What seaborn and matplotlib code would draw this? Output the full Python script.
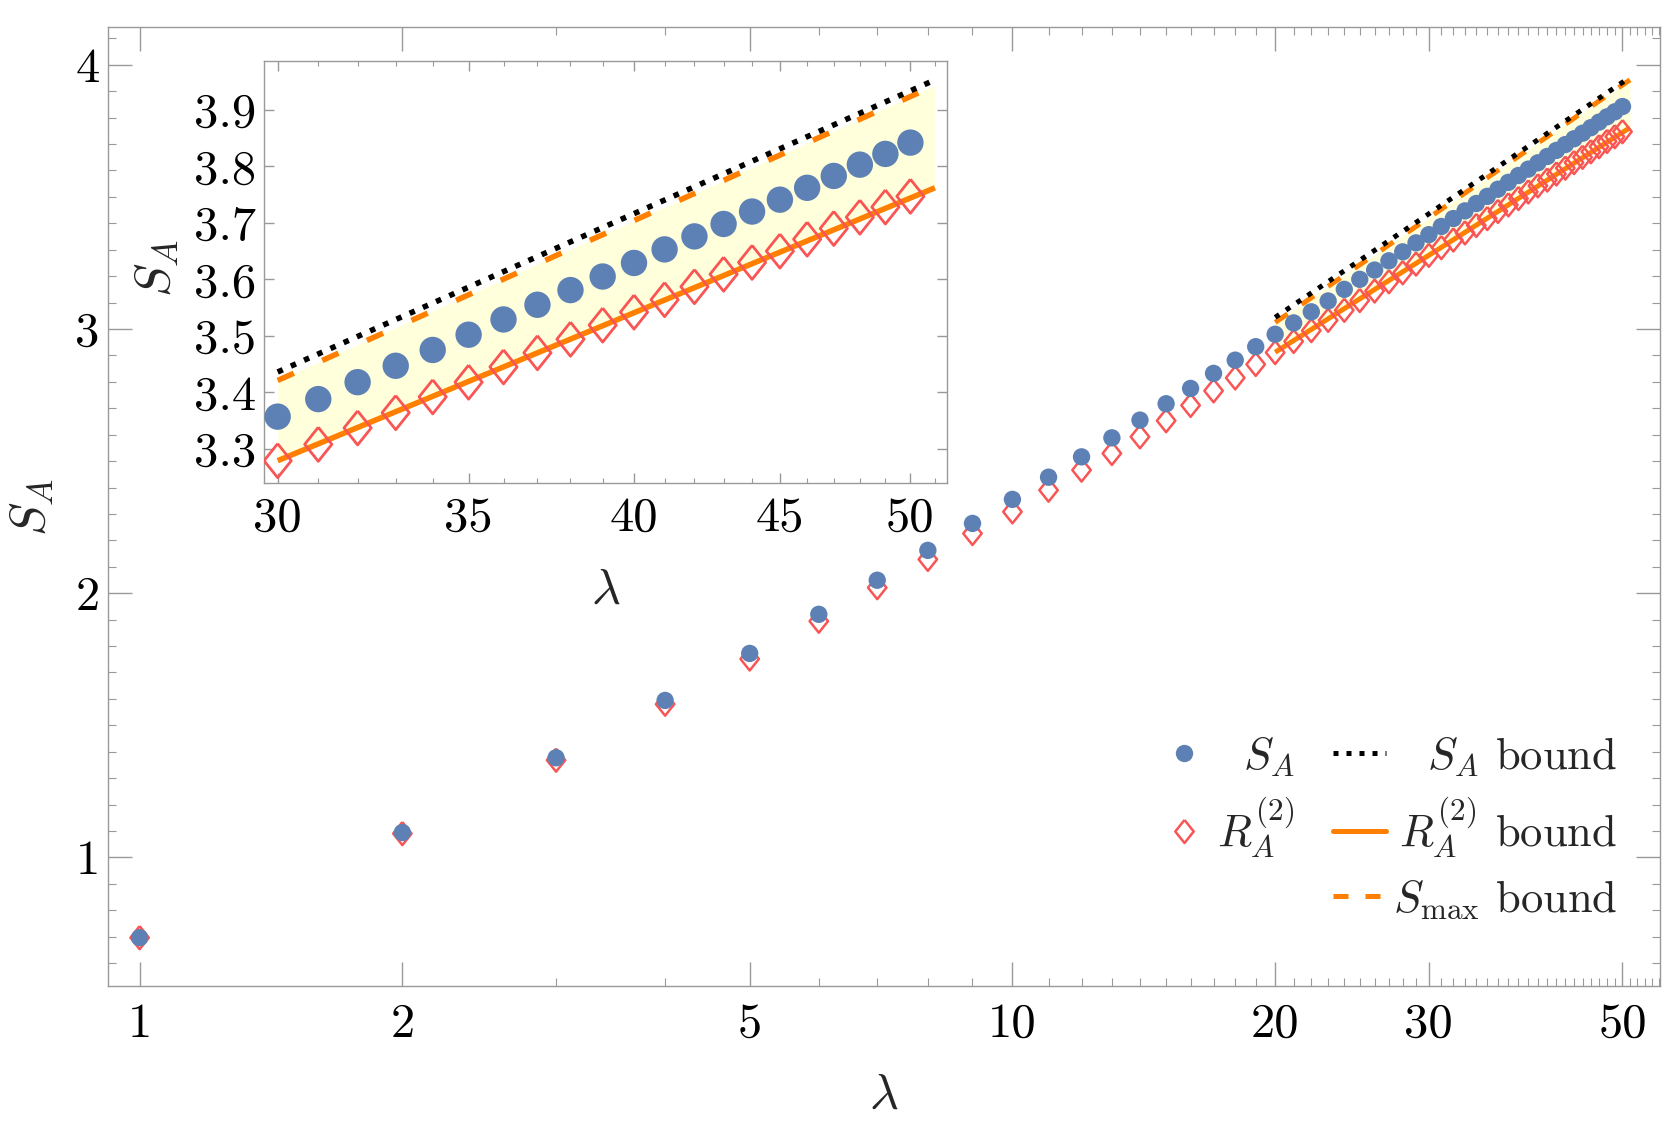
import matplotlib
matplotlib.use('Agg')
import matplotlib.pyplot as plt
import seaborn as sns
from matplotlib.lines import Line2D

# data
lam = list(range(1, 51))
s_a = [0.696, 1.094, 1.377, 1.594, 1.772, 1.920, 2.049, 2.162, 2.264, 2.355,
       2.439, 2.516, 2.588, 2.655, 2.717, 2.775, 2.832, 2.882, 2.933, 2.980,
       3.023, 3.065, 3.106, 3.150, 3.188, 3.223, 3.258, 3.292, 3.326, 3.357,
       3.388, 3.418, 3.447, 3.475, 3.502, 3.529, 3.555, 3.581, 3.605, 3.629,
       3.653, 3.676, 3.698, 3.720, 3.741, 3.762, 3.783, 3.803, 3.822, 3.842]
r_a2 = [0.696, 1.090, 1.368, 1.580, 1.751, 1.894, 2.021, 2.128, 2.226, 2.308,
        2.390, 2.466, 2.529, 2.592, 2.653, 2.711, 2.766, 2.815, 2.866, 2.911,
        2.953, 2.994, 3.033, 3.071, 3.108, 3.144, 3.179, 3.213, 3.246, 3.279,
        3.308, 3.337, 3.364, 3.392, 3.418, 3.445, 3.470, 3.494, 3.519, 3.542,
        3.564, 3.587, 3.609, 3.630, 3.650, 3.671, 3.690, 3.710, 3.728, 3.747]

bound_lam = [20, 30, 51]
s_a_bound = [3.044, 3.436, 3.953]
s_max_bound = [3.025, 3.421, 3.943]
r_a2_bound = [2.912, 3.279, 3.762]

x_major = [1, 2, 5, 10, 20, 30, 50]
y_major = [1, 2, 3, 4]
inset_x_major = [30, 35, 40, 45, 50]
inset_y_major = [3.3, 3.4, 3.5, 3.6, 3.7, 3.8, 3.9]

BLUE = '#5E81B5'
RED = '#FA5555'
ORANGE = '#FF8000'
FILL = '#FFFFDC'
GRAY = '#999999'
DIAMOND = [(0, 1), (0.8, 0), (0, -1), (-0.8, 0), (0, 1)]

sns.set_style('ticks')
plt.rcParams['font.family'] = ['cmr10', 'DejaVu Serif']
plt.rcParams['mathtext.fontset'] = 'cm'
plt.rcParams['axes.formatter.use_mathtext'] = True
plt.rcParams['axes.edgecolor'] = GRAY
plt.rcParams['axes.linewidth'] = 1.0


def style_axes(ax, major_len, minor_len, size):
    ax.tick_params(which='both', direction='in', top=True, right=True,
                   color=GRAY, labelcolor='black', labelsize=size)
    ax.tick_params(which='major', length=major_len, width=1.0)
    ax.tick_params(which='minor', length=minor_len, width=0.8)
    for sp in ax.spines.values():
        sp.set_color(GRAY)
        sp.set_linewidth(1.0)


def draw(ax, lo, lw, dash, ms_c, ms_d, lw_d):
    # lo: first index of the bound arrays to draw
    ax.fill_between(bound_lam[lo:], r_a2_bound[lo:], s_max_bound[lo:],
                    color=FILL, lw=0, zorder=1)
    sns.lineplot(x=bound_lam[lo:], y=r_a2_bound[lo:], ax=ax, color=ORANGE,
                 lw=lw, zorder=2, solid_capstyle='butt')
    sns.lineplot(x=bound_lam[lo:], y=s_max_bound[lo:], ax=ax, color=ORANGE,
                 lw=lw, linestyle=(0, dash), dash_capstyle='butt', zorder=2)
    sns.lineplot(x=bound_lam[lo:], y=s_a_bound[lo:], ax=ax, color='black',
                 lw=lw, linestyle=(0, (1, 1.6)), dash_capstyle='butt', zorder=3)
    sns.scatterplot(x=lam, y=r_a2, ax=ax, marker=DIAMOND, s=ms_d ** 2,
                    facecolor='none', edgecolor=RED, linewidth=lw_d, zorder=4)
    sns.scatterplot(x=lam, y=s_a, ax=ax, marker='o', s=ms_c ** 2,
                    color=BLUE, edgecolor='none', linewidth=0, zorder=5)


fig = plt.figure(figsize=(16.67, 11.30), dpi=100)

# main axes
ax = fig.add_axes([0.0648, 0.1274, 0.931, 0.8487])
draw(ax, 0, 3.6, (3, 3.4), 12.5, 16.6, 1.8)
ax.set_xscale('log')
ax.set_xlim(0.92, 55.2)
ax.set_ylim(0.513, 4.143)
ax.set_xticks(x_major, [str(v) for v in x_major])
ax.set_xticks([v for v in range(3, 56) if v not in x_major], minor=True)
ax.set_xticklabels([], minor=True)
ax.set_yticks(y_major, [str(v) for v in y_major])
ax.set_yticks([v / 10 for v in range(6, 42) if v % 10], minor=True)
style_axes(ax, 17, 6, 35)
ax.tick_params(axis='x', which='both', pad=12)
ax.tick_params(axis='y', which='both', pad=6)
ax.set_xlabel(r'$\lambda$', fontsize=36)
ax.xaxis.set_label_coords(0.5, -0.09)
ax.set_ylabel(r'$S_A$', fontsize=36)
ax.yaxis.set_label_coords(-0.034, 0.5)

handles = [
    Line2D([], [], ls='', marker='o', ms=12.5, color=BLUE, mec='none'),
    Line2D([], [], ls='', marker=DIAMOND, ms=16.6, mfc='none', mec=RED, mew=1.8),
    Line2D([], [], ls='', marker=''),
    Line2D([], [], color='black', lw=3.6, ls=(0, (1, 1.6)), dash_capstyle='butt'),
    Line2D([], [], color=ORANGE, lw=3.6),
    Line2D([], [], color=ORANGE, lw=3.6, ls=(0, (3, 3.4)), dash_capstyle='butt'),
]
labels = [r'$S_A$', r'$R_A^{(2)}$', ' ', r'$S_A$ bound', r'$R_A^{(2)}$ bound',
          r'$S_{\max}$ bound']
leg = ax.legend(handles, labels, ncol=2, frameon=False, fontsize=32,
                loc='lower right', bbox_to_anchor=(0.9723, 0.068),
                borderaxespad=0, borderpad=0, handlelength=1.2,
                handletextpad=0.15, columnspacing=0.85, labelspacing=0.4)

# inset axes
ins = fig.add_axes([0.1586, 0.5728, 0.4095, 0.3735])
ins.set_facecolor('white')
draw(ins, 1, 4.0, (3.2, 5.6), 19, 24.5, 2.0)
ins.set_xscale('log')
ins.set_xlim(29.68, 51.5)
ins.set_ylim(3.240, 3.987)
ins.set_xticks(inset_x_major, [str(v) for v in inset_x_major])
ins.set_xticks([v for v in range(31, 52) if v not in inset_x_major], minor=True)
ins.set_xticklabels([], minor=True)
ins.set_yticks(inset_y_major, [f'{v:.1f}' for v in inset_y_major])
ins.set_yticks([], minor=True)
style_axes(ins, 7, 3.5, 35)
ins.tick_params(axis='x', which='both', pad=10)
ins.tick_params(axis='y', which='both', pad=6)
ins.set_xlabel(r'$\lambda$', fontsize=36)
ins.xaxis.set_label_coords(0.5, -0.2)
ins.set_ylabel(r'$S_A$', fontsize=36)
ins.yaxis.set_label_coords(-0.123, 0.509)

# right-align legend texts inside each column, handles stay in place
fig.canvas.draw()
renderer = fig.canvas.get_renderer()
texts = leg.get_texts()
for col in (texts[0:2], texts[3:6]):
    widths = [t.get_window_extent(renderer).width for t in col]
    wmax = max(widths)
    for t, w in zip(col, widths):
        t.set_position((wmax - w, 0))

fig.savefig('out.png', dpi=100)
